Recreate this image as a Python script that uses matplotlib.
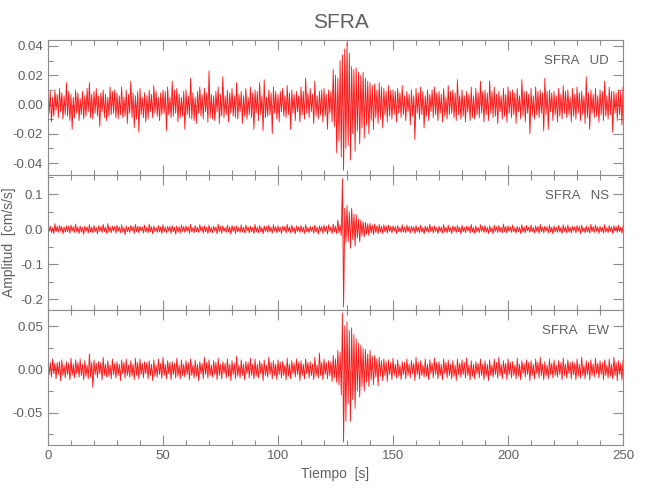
import numpy as np
import matplotlib
matplotlib.use("Agg")
import matplotlib.pyplot as plt
from matplotlib.ticker import MultipleLocator, FormatStrFormatter

plt.rcParams['font.family'] = ['Liberation Sans', 'DejaVu Sans']

# acceleration peaks every half second, in 0.001 cm/s/s
dt = 0.5
ud = [13, -6, 9, -12, 5, -8, 10, -4, 7, -9, 11, -5, 8, -10, 6, -7, 15, -8, 9, -11,
      7, -17, 5, -9, 10, -6, 8, -11, 4, -7, 9, -10, 6, -8, 11, -5, 15, -9, 7, -10,
      9, -6, 11, -8, 6, -15, 8, -5, 10, -9, 7, -11, 5, -8, 12, -7, 9, -6, 10, -9,
      8, -10, 6, -7, 12, -9, 5, -8, 10, -13, 7, -6, 16, -9, 8, -16, 6, -10, 9, -19,
      11, -7, 5, -9, 8, -12, 6, -10, 10, -5, 7, -9, 13, -6, 9, -8, 5, -11, 8, -7,
      10, -6, 9, -18, 12, -7, 5, -9, 16, -8, 10, -6, 11, -12, 7, -9, 5, -8, 9, -17,
      10, -7, 6, -9, 18, -10, 8, -11, 5, -13, 9, -6, 12, -8, 7, -10, 11, -5, 8, -12,
      23, -9, 7, -10, 6, -11, 9, -5, 12, -13, 7, -8, 19, -9, 6, -7, 10, -12, 8, -6,
      11, -8, 6, -9, 15, -10, 7, -5, 9, -13, 6, -8, 11, -10, 5, -7, 12, -9, 8, -17,
      10, -6, 9, -11, 15, -7, 6, -18, 17, -9, 5, -8, 10, -7, 8, -20, 12, -6, 9, -10,
      7, -12, 9, -5, 11, -8, 6, -9, 13, -7, 8, -17, 10, -6, 7, -11, 9, -5, 6, -12,
      12, -7, 9, -10, 18, -6, 8, -9, 11, -5, 7, -13, 16, -8, 6, -10, 9, -7, 10, -12,
      11, -8, 7, -17, 10, -6, 9, -12, 24, -15, 20, -33, 18, -25, 30, -36, 34, -45, 38, -30,
      42, -28, 35, -38, 26, -20, 24, -32, 25, -18, 22, -27, 20, -16, 22, -23, 18, -14, 16, -20,
      15, -11, 13, -17, 14, -9, 10, -13, 15, -10, 12, -16, 11, -7, 9, -12, 13, -8, 10, -10,
      10, -7, 9, -12, 11, -6, 8, -9, 13, -7, 6, -11, 9, -5, 7, -14, 10, -8, 6, -24,
      11, -6, 8, -10, 12, -7, 9, -16, 6, -8, 10, -11, 7, -5, 10, -9, 12, -7, 8, -11,
      9, -6, 7, -12, 11, -8, 5, -10, 13, -7, 9, -6, 10, -9, 8, -11, 17, -7, 6, -10,
      10, -8, 6, -12, 9, -5, 7, -11, 12, -9, 6, -10, 11, -7, 8, -9, 16, -6, 9, -12,
      10, -7, 8, -11, 16, -6, 9, -9, 12, -8, 7, -13, 9, -5, 6, -10, 11, -8, 7, -12,
      12, -6, 9, -9, 10, -7, 8, -13, 11, -5, 6, -10, 17, -8, 9, -12, 9, -6, 7, -20,
      11, -8, 6, -10, 12, -7, 9, -9, 10, -6, 8, -18, 18, -7, 9, -17, 10, -5, 8, -11,
      9, -7, 6, -12, 11, -8, 7, -10, 13, -6, 9, -9, 10, -7, 5, -12, 11, -8, 7, -10,
      12, -6, 8, -11, 9, -7, 6, -13, 19, -9, 8, -17, 10, -6, 7, -9, 11, -8, 6, -12,
      10, -7, 9, -11, 16, -8, 6, -10, 12, -7, 9, -19, 9, -6, 8, -11, 10, -7, 9, -14,
      12]
ns = [14, -6, 9, -10, 5, -12, 16, -7, 9, -9, 11, -5, 8, -13, 6, -8, 10, -7, 9, -11,
      12, -5, 8, -9, 15, -7, 6, -12, 10, -8, 5, -14, 9, -6, 7, -11, 13, -8, 6, -10,
      11, -7, 5, -13, 10, -6, 8, -9, 14, -7, 6, -12, 16, -8, 7, -10, 9, -5, 8, -11,
      12, -6, 7, -10, 13, -8, 5, -15, 10, -7, 6, -9, 11, -5, 8, -12, 14, -7, 9, -10,
      9, -5, 7, -11, 12, -8, 6, -10, 15, -7, 8, -13, 10, -6, 5, -9, 11, -8, 7, -12,
      13, -7, 6, -10, 9, -5, 8, -12, 11, -7, 6, -14, 10, -8, 7, -11, 12, -6, 8, -9,
      10, -6, 7, -12, 14, -8, 5, -10, 11, -7, 6, -9, 13, -5, 8, -11, 10, -7, 6, -12,
      12, -8, 6, -10, 9, -5, 7, -13, 15, -7, 8, -11, 10, -6, 5, -9, 12, -8, 7, -14,
      11, -6, 8, -12, 10, -7, 5, -9, 13, -8, 6, -10, 12, -5, 7, -11, 9, -7, 6, -12,
      14, -8, 6, -10, 11, -7, 5, -13, 10, -6, 8, -9, 12, -7, 6, -11, 13, -5, 7, -10,
      10, -7, 6, -12, 9, -5, 8, -11, 14, -6, 7, -10, 12, -8, 5, -13, 10, -6, 7, -9,
      11, -8, 6, -12, 13, -7, 5, -10, 9, -6, 7, -11, 12, -8, 6, -14, 10, -5, 8, -12,
      12, -7, 8, -14, 13, -6, 7, -12, 15, -8, 9, -13, 26, -10, 12, -18, 145, -222, 60, -40,
      68, -35, 50, -54, 60, -30, 44, -48, 42, -25, 30, -36, 26, -18, 22, -22, 20, -14, 16, -18,
      17, -10, 12, -15, 15, -9, 10, -13, 14, -8, 9, -12, 13, -7, 10, -11, 12, -6, 8, -10,
      10, -6, 8, -12, 11, -7, 5, -9, 13, -8, 6, -10, 12, -7, 8, -11, 9, -5, 7, -12,
      11, -7, 6, -10, 12, -8, 5, -13, 10, -6, 7, -9, 14, -7, 8, -11, 10, -6, 5, -12,
      9, -6, 7, -11, 13, -8, 6, -10, 12, -7, 5, -12, 10, -6, 8, -9, 11, -7, 6, -13,
      12, -7, 6, -10, 9, -5, 8, -11, 14, -8, 6, -12, 10, -7, 5, -10, 13, -6, 8, -9,
      11, -8, 6, -12, 10, -7, 5, -13, 12, -6, 7, -9, 11, -8, 6, -10, 15, -7, 8, -11,
      10, -6, 7, -9, 12, -8, 5, -11, 9, -7, 6, -12, 13, -8, 7, -10, 11, -5, 6, -9,
      12, -7, 5, -11, 10, -6, 8, -12, 14, -7, 6, -10, 9, -5, 7, -11, 12, -8, 6, -13,
      10, -7, 6, -9, 11, -8, 5, -12, 13, -6, 7, -10, 12, -8, 6, -11, 9, -5, 7, -10,
      11, -6, 8, -13, 12, -7, 5, -10, 10, -8, 6, -11, 14, -7, 8, -9, 12, -6, 7, -12,
      9, -7, 6, -11, 13, -8, 5, -10, 11, -6, 7, -12, 10, -5, 8, -9, 12, -7, 6, -11,
      10]
ew = [10, -6, 8, -9, 12, -5, 7, -11, 8, -6, 9, -13, 11, -7, 5, -10, 9, -6, 7, -12,
      13, -7, 6, -10, 11, -5, 8, -9, 12, -7, 6, -12, 10, -8, 5, -11, 18, -9, 8, -21,
      11, -6, 7, -10, 9, -5, 8, -12, 14, -7, 6, -9, 10, -8, 5, -11, 12, -6, 7, -10,
      9, -7, 6, -13, 11, -5, 8, -10, 12, -7, 5, -9, 10, -8, 6, -12, 13, -7, 8, -11,
      12, -6, 7, -10, 9, -5, 8, -11, 10, -7, 6, -13, 11, -8, 5, -9, 12, -6, 7, -10,
      14, -7, 6, -11, 10, -5, 8, -12, 9, -6, 7, -10, 13, -8, 5, -11, 11, -7, 6, -9,
      10, -6, 8, -12, 12, -7, 5, -10, 11, -8, 6, -13, 9, -5, 7, -11, 14, -6, 8, -10,
      11, -7, 5, -9, 10, -6, 8, -12, 13, -7, 6, -11, 9, -5, 7, -10, 12, -8, 6, -13,
      10, -6, 7, -11, 15, -8, 5, -10, 11, -7, 6, -12, 9, -5, 8, -10, 13, -7, 6, -11,
      12, -8, 6, -10, 10, -5, 7, -13, 11, -7, 5, -9, 14, -6, 8, -11, 10, -7, 6, -12,
      11, -6, 8, -10, 9, -7, 5, -12, 13, -8, 6, -11, 10, -5, 7, -9, 12, -6, 8, -13,
      10, -7, 6, -11, 12, -5, 8, -10, 9, -7, 6, -12, 14, -8, 5, -10, 19, -7, 8, -12,
      12, -6, 8, -11, 10, -7, 9, -14, 16, -10, 12, -15, 22, -18, 20, -30, 65, -84, 50, -60,
      55, -40, 45, -60, 48, -35, 40, -45, 35, -25, 30, -32, 28, -20, 24, -25, 23, -15, 18, -20,
      22, -12, 15, -18, 16, -9, 12, -19, 14, -8, 10, -13, 12, -7, 9, -14, 11, -6, 8, -12,
      13, -7, 6, -10, 11, -8, 5, -12, 9, -6, 8, -11, 12, -7, 6, -10, 10, -5, 7, -13,
      14, -6, 8, -11, 10, -7, 5, -9, 12, -8, 6, -12, 11, -5, 7, -10, 13, -6, 8, -11,
      9, -7, 6, -12, 12, -5, 8, -10, 11, -7, 6, -11, 10, -8, 5, -13, 12, -6, 7, -9,
      11, -6, 8, -10, 13, -7, 5, -12, 10, -8, 6, -11, 9, -5, 7, -10, 12, -7, 6, -12,
      10, -8, 6, -13, 11, -7, 5, -9, 12, -6, 8, -10, 14, -7, 6, -11, 10, -5, 7, -12,
      12, -6, 8, -10, 9, -7, 5, -11, 13, -8, 6, -12, 10, -5, 7, -9, 11, -6, 8, -13,
      10, -7, 6, -11, 12, -5, 8, -10, 14, -7, 6, -12, 9, -8, 5, -11, 12, -6, 7, -10,
      11, -7, 5, -9, 10, -6, 8, -12, 13, -7, 6, -10, 11, -5, 8, -11, 9, -6, 7, -12,
      12, -8, 6, -10, 14, -7, 5, -11, 10, -6, 8, -12, 11, -7, 6, -9, 13, -5, 7, -10,
      10, -6, 8, -12, 11, -7, 5, -10, 12, -8, 6, -11, 14, -7, 8, -13, 10, -6, 7, -12,
      11]

station = "SFRA"
components = ["UD", "NS", "EW"]
traces = [ud, ns, ew]
ylims = [(-0.0482, 0.0441), (-0.2306, 0.155), (-0.0873, 0.0685)]
ymajor = [0.02, 0.1, 0.05]
yminor = [0.01, 0.05, 0.025]
yfmt = ["%.2f", "%.1f", "%.2f"]

axcol = "#8c8c8c"
txtcol = "#606060"

fig, axes = plt.subplots(3, 1, figsize=(6.5, 5), dpi=100, sharex=True)
fig.subplots_adjust(left=0.0738, right=0.9585, bottom=0.11, top=0.92, hspace=0)

for i, ax in enumerate(axes):
    y = np.array(traces[i]) / 1000.0
    t = np.arange(len(y)) * dt
    ax.fill_between(t, y, 0, color="red", alpha=0.5, lw=0)
    ax.plot(t, y, color="red", lw=0.6, alpha=0.9)
    ax.set_xlim(0, 250)
    ax.set_ylim(*ylims[i])
    ax.yaxis.set_major_locator(MultipleLocator(ymajor[i]))
    ax.yaxis.set_minor_locator(MultipleLocator(yminor[i]))
    ax.yaxis.set_major_formatter(FormatStrFormatter(yfmt[i]))
    ax.xaxis.set_major_locator(MultipleLocator(50))
    ax.xaxis.set_minor_locator(MultipleLocator(10))
    ax.tick_params(which="both", direction="in", top=True, right=True,
                   color=axcol, labelcolor=txtcol, labelsize=9.5, width=0.8)
    ax.tick_params(which="major", length=7)
    ax.tick_params(which="minor", length=3.5)
    for s in ax.spines.values():
        s.set_color(axcol)
        s.set_linewidth(0.8)
    ax.text(0.976, 0.842, station + "   " + components[i], transform=ax.transAxes,
            ha="right", va="center", color=txtcol, fontsize=9.5)

axes[-1].set_xlabel("Tiempo  [s]", color=txtcol, fontsize=10, labelpad=4)
fig.text(0.014, 0.515, "Amplitud  [cm/s/s]", rotation=90, ha="center", va="center",
         color=txtcol, fontsize=10)
fig.text(341 / 650, 1 - 23 / 500, station, ha="center", va="center", color=txtcol, fontsize=15)

fig.savefig("out.png", dpi=100)
